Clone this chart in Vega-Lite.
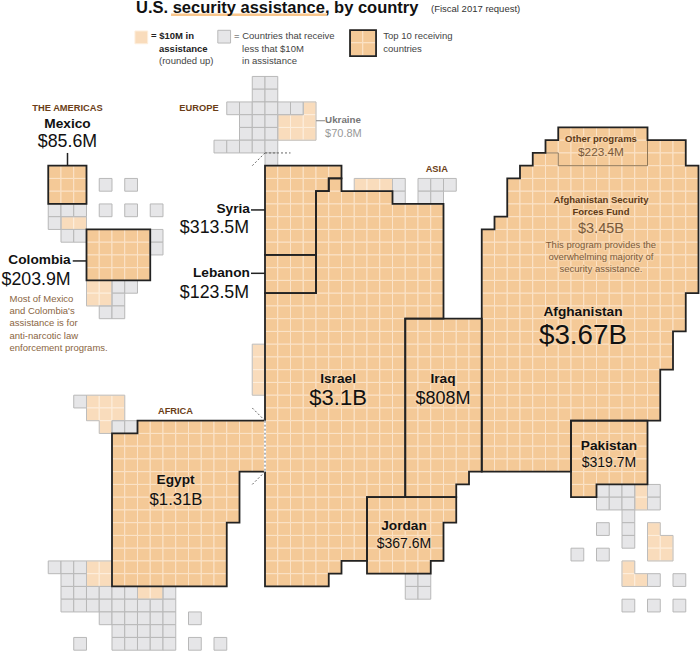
{
"$schema":"https://vega.github.io/schema/vega-lite/v6.json",
"width":700,"height":653,"autosize":{"type":"none"},"padding":0,"background":"white",
"config":{"view":{"stroke":null},"text":{"font":"Liberation Sans"}},
"datasets":{
"inBold":[{"x":25.73,"y":29.02,"t":"Israel"},{"x":33.96,"y":29.07,"t":"Iraq"},{"x":44.94,"y":23.79,"t":"Afghanistan"},{"x":12.99,"y":36.94,"t":"Egypt"},{"x":46.98,"y":34.3,"t":"Pakistan"},{"x":30.9,"y":40.57,"t":"Jordan"}],
"inAmt":[{"x":25.73,"y":30.77,"t":"$3.1B","tier":"b"},{"x":33.96,"y":30.69,"t":"$808M","tier":"c"},{"x":44.94,"y":25.99,"t":"$3.67B","tier":"a"},{"x":13.02,"y":38.64,"t":"$1.31B","tier":"d"},{"x":46.98,"y":35.63,"t":"$319.7M","tier":"e"},{"x":30.9,"y":41.98,"t":"$367.6M","tier":"e"}],
"brBold":[{"x":46.35,"y":10.14,"t":"Other programs"},{"x":46.35,"y":14.93,"t":"Afghanistan Security"},{"x":46.35,"y":15.89,"t":"Forces Fund"}],
"brAmt":[{"x":46.35,"y":11.22,"t":"$223.4M","tier":"f"},{"x":46.35,"y":17.25,"t":"$3.45B","tier":"g"}],
"brBody":[{"x":46.35,"y":18.43,"t":"This program provides the"},{"x":46.35,"y":19.4,"t":"overwhelming majority of"},{"x":46.35,"y":20.34,"t":"security assistance."}]
},
"encoding":{
"x":{"field":"x","type":"quantitative","axis":null,"scale":{"domain":[-0.7843,54.1176],"nice":false,"zero":false}},
"y":{"field":"y","type":"quantitative","axis":null,"scale":{"domain":[-0.9961,50.2196],"reverse":true,"nice":false,"zero":false}}
},
"layer":[
{"data":{"values":[{"x":[12.63,24.78],"y":[0.16,0.16]}]},"transform":[{"flatten":["x","y"]}],"mark":{"type":"line","color":"#f9c68c","strokeWidth":2.5},"encoding":{"order":{"value":null}}},
{"data":{"values":[
{"tier":"top","country":"Afghanistan","y":[9],"x":[43,44,45,46,47,48,49]},
{"tier":"top","country":"Afghanistan","y":[10],"x":[42,43,44,45,46,47,48,49,50,51,52]},
{"tier":"top","country":"Afghanistan","y":[11],"x":[41,42,43,44,45,46,47,48,49,50,51,52]},
{"tier":"top","country":"Afghanistan","y":[12],"x":[40,41,42,43,44,45,46,47,48,49,50,51,52,53]},
{"tier":"top","country":"Afghanistan","y":[13,14,15],"x":[39,40,41,42,43,44,45,46,47,48,49,50,51,52,53]},
{"tier":"top","country":"Afghanistan","y":[16],"x":[38,39,40,41,42,43,44,45,46,47,48,49,50,51,52,53]},
{"tier":"top","country":"Afghanistan","y":[17,18,19,20,21],"x":[37,38,39,40,41,42,43,44,45,46,47,48,49,50,51,52,53]},
{"tier":"top","country":"Afghanistan","y":[22,23,24],"x":[37,38,39,40,41,42,43,44,45,46,47,48,49,50,51,52]},
{"tier":"top","country":"Afghanistan","y":[25,26,27],"x":[37,38,39,40,41,42,43,44,45,46,47,48,49,50,51]},
{"tier":"top","country":"Afghanistan","y":[28,29,30,31],"x":[37,38,39,40,41,42,43,44,45,46,47,48,49,50]},
{"tier":"top","country":"Afghanistan","y":[32,33,34,35],"x":[37,38,39,40,41,42,43]},
{"tier":"top","country":"Israel","y":[13],"x":[25]},
{"tier":"top","country":"Israel","y":[14],"x":[24,25,26,27,28,29]},
{"tier":"top","country":"Israel","y":[15,16,17,18,19,20,21],"x":[24,25,26,27,28,29,30,31,32,33]},
{"tier":"top","country":"Israel","y":[22,23],"x":[20,21,22,23,24,25,26,27,28,29,30,31,32,33]},
{"tier":"top","country":"Israel","y":[24,25,26,27,28,29,30,31,32,33,34,35,36,37],"x":[20,21,22,23,24,25,26,27,28,29,30]},
{"tier":"top","country":"Israel","y":[38,39,40,41,42],"x":[20,21,22,23,24,25,26,27]},
{"tier":"top","country":"Israel","y":[43],"x":[20,21,22,23,24,25]},
{"tier":"top","country":"Israel","y":[44],"x":[20,21,22,23,24]},
{"tier":"top","country":"Syria","y":[12],"x":[20,21,22,23,24,25]},
{"tier":"top","country":"Syria","y":[13],"x":[20,21,22,23,24]},
{"tier":"top","country":"Syria","y":[14,15,16,17,18],"x":[20,21,22,23]},
{"tier":"top","country":"Lebanon","y":[19,20,21],"x":[20,21,22,23]},
{"tier":"top","country":"Iraq","y":[24,25,26,27,28,29,30,31,32,33,34,35],"x":[31,32,33,34,35,36]},
{"tier":"top","country":"Iraq","y":[36],"x":[31,32,33,34,35]},
{"tier":"top","country":"Iraq","y":[37],"x":[31,32,33,34]},
{"tier":"top","country":"Jordan","y":[38,39],"x":[28,29,30,31,32,33,34]},
{"tier":"top","country":"Jordan","y":[40,41,42],"x":[28,29,30,31,32,33]},
{"tier":"top","country":"Jordan","y":[43],"x":[28,29,30,31,32]},
{"tier":"top","country":"Pakistan","y":[32,33,34,35,36],"x":[44,45,46,47,48,49]},
{"tier":"top","country":"Pakistan","y":[37],"x":[44,45]},
{"tier":"top","country":"Egypt","y":[32],"x":[10,11,12,13,14,15,16,17,18,19]},
{"tier":"top","country":"Egypt","y":[33,34,35],"x":[8,9,10,11,12,13,14,15,16,17,18,19]},
{"tier":"top","country":"Egypt","y":[36,37,38,39],"x":[8,9,10,11,12,13,14,15,16,17]},
{"tier":"top","country":"Egypt","y":[40,41,42,43,44],"x":[8,9,10,11,12,13,14,15,16]},
{"tier":"top","country":"Mexico","y":[12,13,14],"x":[3,4,5]},
{"tier":"top","country":"Colombia","y":[17,18,19,20],"x":[6,7,8,9,10]},
{"tier":"top","country":"legend","y":[1.36,2.36],"x":[26.67,27.67]},
{"tier":"light","y":[7],"x":[23]},{"tier":"light","y":[8,9],"x":[21,22,23]},{"tier":"light","y":[13],"x":[27,28,29]},
{"tier":"light","y":[16],"x":[4,5]},{"tier":"light","y":[21,22],"x":[6,7]},{"tier":"light","y":[26,27,28,29],"x":[19]},
{"tier":"light","y":[30,31],"x":[6,7,8]},{"tier":"light","y":[32],"x":[7]},{"tier":"light","y":[43,44],"x":[6,7]},
{"tier":"light","y":[45],"x":[10,11]},{"tier":"light","y":[37,38],"x":[49]},{"tier":"light","y":[40],"x":[50]},
{"tier":"light","y":[41,42],"x":[50,51]},{"tier":"light","y":[43],"x":[48]},{"tier":"light","y":[44],"x":[48,49]},
{"tier":"light","y":[1.435],"x":[9.8]},
{"tier":"gray","y":[5,6],"x":[19,20]},{"tier":"gray","y":[7],"x":[17,18,19,20,21,22]},{"tier":"gray","y":[8,9],"x":[18,19,20]},
{"tier":"gray","y":[10],"x":[16,17,18,19,20]},{"tier":"gray","y":[11],"x":[20]},
{"tier":"gray","y":[13],"x":[7,9,30,32,33,34]},{"tier":"gray","y":[14],"x":[30,32,33]},
{"tier":"gray","y":[15],"x":[3,4,5,7,9,11]},{"tier":"gray","y":[16],"x":[3]},{"tier":"gray","y":[17],"x":[4,5,11]},{"tier":"gray","y":[18],"x":[11]},
{"tier":"gray","y":[21],"x":[8,9]},{"tier":"gray","y":[22],"x":[8]},{"tier":"gray","y":[23],"x":[7,8]},
{"tier":"gray","y":[30],"x":[5]},{"tier":"gray","y":[32],"x":[8,9]},
{"tier":"gray","y":[43],"x":[3,4,5]},{"tier":"gray","y":[44],"x":[4,5,31,32,50,52]},
{"tier":"gray","y":[45],"x":[4,5,6,7,8,9,12,31,32]},{"tier":"gray","y":[46],"x":[4,5,6,7,8,9,10,11,12,48,50,52]},
{"tier":"gray","y":[47],"x":[7,8,9,10,11,12,14]},{"tier":"gray","y":[48],"x":[8,9,10,11,12]},{"tier":"gray","y":[49],"x":[5,8,9,10,11,12,14,16]},
{"tier":"gray","y":[37,38],"x":[46,47,48,50]},{"tier":"gray","y":[39],"x":[48]},{"tier":"gray","y":[40],"x":[46,48]},{"tier":"gray","y":[41],"x":[48]},{"tier":"gray","y":[42],"x":[44,46]},
{"tier":"gray","y":[1.38],"x":[16.3]}
]},
"transform":[{"flatten":["y"]},{"flatten":["x"]}],
"mark":{"type":"rect","width":12.75,"height":12.75,"xOffset":6.375,"yOffset":6.375,"strokeWidth":1},
"encoding":{
"fill":{"field":"tier","type":"nominal","legend":null,"scale":{"domain":["top","light","gray"],"range":["#f4c997","#f9dcbc","#e6e6e8"]}},
"stroke":{"field":"tier","type":"nominal","legend":null,"scale":{"domain":["top","light","gray"],"range":["#fbe3c8","#fdeedd","#b8b8b8"]}}
}},
{"data":{"values":[
{"id":"u","x":[23,24,24,21,21,23,23],"y":[7,7,10,10,8,8,7]},
{"id":"m","x":[4,6,6,4,4],"y":[16,16,17,17,16]},
{"id":"c","x":[6,8,8,6,6],"y":[21,21,23,23,21]},
{"id":"i","x":[19,20,20,19,19],"y":[26,26,30,30,26]},
{"id":"n","x":[6,9,9,8,8,7,7,6,6],"y":[30,30,32,32,33,33,32,32,30]},
{"id":"s","x":[6,8,8,6,6],"y":[43,43,45,45,43]},
{"id":"t","x":[10,12,12,10,10],"y":[45,45,46,46,45]},
{"id":"a","x":[27,30,30,27,27],"y":[13,13,14,14,13]},
{"id":"p","x":[49,50,50,49,49],"y":[37,37,39,39,37]},
{"id":"q","x":[50,51,51,52,52,50,50],"y":[40,40,41,41,43,43,40]},
{"id":"r","x":[48,49,49,50,50,48,48],"y":[43,43,44,44,45,45,43]}
]},"transform":[{"flatten":["x","y"]}],"mark":{"type":"line","color":"#bdbdbd","strokeWidth":1},"encoding":{"detail":{"field":"id"},"order":{"value":null}}},
{"data":{"values":[{"id":"prog","x":[42,43,43,50,50],"y":[11,11,12,12,10]}]},"transform":[{"flatten":["x","y"]}],"mark":{"type":"line","color":"#8f7656","strokeWidth":1},"encoding":{"order":{"value":null}}},
{"data":{"values":[
{"id":"Afghanistan","x":[43,50,50,53,53,54,54,53,53,52,52,51,51,44,44,37,37,38,38,39,39,40,40,41,41,42,42,43,43],"y":[9,9,10,10,12,12,22,22,25,25,28,28,32,32,36,36,17,17,16,16,13,13,12,12,11,11,10,10,9]},
{"id":"Israel","x":[25,26,26,30,30,34,34,31,31,28,28,26,26,25,25,20,20,24,24,25,25],"y":[13,13,14,14,15,15,24,24,38,38,43,43,44,44,45,45,22,22,14,14,13]},
{"id":"Syria","x":[20,26,26,25,25,24,24,20,20],"y":[12,12,13,13,14,14,19,19,12]},
{"id":"Lebanon","x":[20,24,24,20,20],"y":[19,19,22,22,19]},
{"id":"Iraq","x":[31,37,37,36,36,35,35,31,31],"y":[24,24,36,36,37,37,38,38,24]},
{"id":"Jordan","x":[28,35,35,34,34,33,33,28,28],"y":[38,38,40,40,43,43,44,44,38]},
{"id":"Pakistan","x":[44,50,50,46,46,44,44],"y":[32,32,37,37,38,38,32]},
{"id":"Egypt","x":[10,20,20,18,18,17,17,8,8,10,10],"y":[32,32,36,36,40,40,45,45,33,33,32]},
{"id":"Mexico","x":[3,6,6,3,3],"y":[12,12,15,15,12]},
{"id":"Colombia","x":[6,11,11,6,6],"y":[17,17,21,21,17]},
{"id":"legend","x":[26.67,28.71,28.71,26.67,26.67],"y":[1.36,1.36,3.4,3.4,1.36]}
]},"transform":[{"flatten":["x","y"]}],"mark":{"type":"line","color":"#222","strokeWidth":1.8,"strokeCap":"square","strokeJoin":"miter"},"encoding":{"detail":{"field":"id"},"order":{"value":null}}},
{"data":{"values":[{"x":[20,20],"y":[32,36]}]},"transform":[{"flatten":["x","y"]}],"mark":{"type":"line","color":"#ffffff","strokeWidth":2.2},"encoding":{"order":{"value":null}}},
{"data":{"values":[
{"id":"a","x":[20,19],"y":[11,12]},{"id":"b","x":[20,22],"y":[11,11]},{"id":"c","x":[20,19],"y":[32,31]},{"id":"d","x":[20,19],"y":[36,37]},{"id":"e","x":[20,20],"y":[32,36]}
]},"transform":[{"flatten":["x","y"]}],"mark":{"type":"line","color":"#666","strokeWidth":1,"strokeDash":[2,2]},"encoding":{"detail":{"field":"id"},"order":{"value":null}}},
{"data":{"values":[
{"id":"Mexico","x":[4.51,4.51],"y":[11,12]},{"id":"Syria","x":[18.9,20],"y":[15.47,15.47]},{"id":"Lebanon","x":[18.9,20],"y":[20.44,20.44]},{"id":"Colombia","x":[4.92,6],"y":[19.47,19.47]}
]},"transform":[{"flatten":["x","y"]}],"mark":{"type":"line","color":"#222","strokeWidth":1.5},"encoding":{"detail":{"field":"id"},"order":{"value":null}}},
{"data":{"values":[{"x":[24,24.7],"y":[8.47,8.47]}]},"transform":[{"flatten":["x","y"]}],"mark":{"type":"line","color":"#999","strokeWidth":1.2},"encoding":{"order":{"value":null}}},

{"data":{"values":[{"x":9.88,"y":0,"t":"U.S. security assistance, by country"}]},"mark":{"type":"text","align":"left","baseline":"alphabetic","fontSize":16.5,"fontWeight":"bold","color":"#111"},"encoding":{"text":{"field":"t"}}},
{"data":{"values":[{"x":33.02,"y":-0.05,"t":"(Fiscal 2017 request)"}]},"mark":{"type":"text","align":"left","baseline":"alphabetic","fontSize":9.5,"color":"#333"},"encoding":{"text":{"field":"t"}}},
{"data":{"values":[{"x":11.06,"y":2.09,"t":"= $10M in"},{"x":11.69,"y":3.08,"t":"assistance"}]},"mark":{"type":"text","align":"left","baseline":"alphabetic","fontSize":9.5,"fontWeight":"bold","color":"#222"},"encoding":{"text":{"field":"t"}}},
{"data":{"values":[{"x":11.69,"y":4.05,"t":"(rounded up)"},{"x":17.57,"y":2.09,"t":"= Countries that receive"},{"x":18.2,"y":3.08,"t":"less that $10M"},{"x":18.2,"y":4.05,"t":"in assistance"},{"x":29.28,"y":2.09,"t":"Top 10 receiving"},{"x":29.28,"y":3.08,"t":"countries"}]},"mark":{"type":"text","align":"left","baseline":"alphabetic","fontSize":9.5,"color":"#444"},"encoding":{"text":{"field":"t"}}},
{"data":{"values":[{"x":4.51,"y":7.73,"t":"THE AMERICAS"},{"x":14.82,"y":7.73,"t":"EUROPE"},{"x":33.47,"y":12.52,"t":"ASIA"},{"x":12.98,"y":31.47,"t":"AFRICA"}]},"mark":{"type":"text","align":"center","baseline":"alphabetic","fontSize":9.3,"fontWeight":"bold","color":"#6b3e17"},"encoding":{"text":{"field":"t"}}},
{"data":{"values":[{"x":4.51,"y":9.07,"t":"Mexico"}]},"mark":{"type":"text","align":"center","baseline":"alphabetic","fontSize":13.7,"fontWeight":"bold","color":"#111"},"encoding":{"text":{"field":"t"}}},
{"data":{"values":[{"x":18.82,"y":15.73,"t":"Syria"},{"x":18.82,"y":20.75,"t":"Lebanon"},{"x":4.76,"y":19.71,"t":"Colombia"}]},"mark":{"type":"text","align":"right","baseline":"alphabetic","fontSize":13.7,"fontWeight":"bold","color":"#111"},"encoding":{"text":{"field":"t"}}},
{"data":{"values":[{"x":4.51,"y":10.53,"t":"$85.6M"}]},"mark":{"type":"text","align":"center","baseline":"alphabetic","fontSize":17.8,"color":"#111"},"encoding":{"text":{"field":"t"}}},
{"data":{"values":[{"x":18.75,"y":17.28,"t":"$313.5M"},{"x":18.75,"y":22.35,"t":"$123.5M"},{"x":4.76,"y":21.36,"t":"$203.9M"}]},"mark":{"type":"text","align":"right","baseline":"alphabetic","fontSize":17.8,"color":"#111"},"encoding":{"text":{"field":"t"}}},
{"data":{"values":[{"x":24.71,"y":8.67,"t":"Ukraine"}]},"mark":{"type":"text","align":"left","baseline":"alphabetic","fontSize":9.8,"fontWeight":"bold","color":"#777"},"encoding":{"text":{"field":"t"}}},
{"data":{"values":[{"x":24.71,"y":9.73,"t":"$70.8M"}]},"mark":{"type":"text","align":"left","baseline":"alphabetic","fontSize":11,"color":"#999"},"encoding":{"text":{"field":"t"}}},
{"data":{"values":[{"x":-0.04,"y":22.67,"t":"Most of Mexico"},{"x":-0.04,"y":23.62,"t":"and Colombia's"},{"x":-0.04,"y":24.6,"t":"assistance is for"},{"x":-0.04,"y":25.57,"t":"anti-narcotic law"},{"x":-0.04,"y":26.53,"t":"enforcement programs."}]},"mark":{"type":"text","align":"left","baseline":"alphabetic","fontSize":9.5,"color":"#8a6542"},"encoding":{"text":{"field":"t"}}},

{"data":{"name":"inBold"},"mark":{"type":"text","align":"center","baseline":"alphabetic","fontSize":13.7,"fontWeight":"bold","stroke":"#f7d3a9","strokeWidth":2.5,"strokeJoin":"round"},"encoding":{"text":{"field":"t"}}},
{"data":{"name":"inAmt"},"mark":{"type":"text","align":"center","baseline":"alphabetic","stroke":"#f7d3a9","strokeWidth":2.5,"strokeJoin":"round"},"encoding":{"text":{"field":"t"},"size":{"field":"tier","type":"nominal","legend":null,"scale":{"type":"ordinal","domain":["a","b","c","d","e","f","g"],"range":[27.8,22,18,16.7,14,11.8,14.5]}}}},
{"data":{"name":"brBold"},"mark":{"type":"text","align":"center","baseline":"alphabetic","fontSize":9.5,"fontWeight":"bold","stroke":"#f7d3a9","strokeWidth":2.5,"strokeJoin":"round"},"encoding":{"text":{"field":"t"}}},
{"data":{"name":"brAmt"},"mark":{"type":"text","align":"center","baseline":"alphabetic","stroke":"#f7d3a9","strokeWidth":2.5,"strokeJoin":"round"},"encoding":{"text":{"field":"t"},"size":{"field":"tier","type":"nominal","legend":null,"scale":{"type":"ordinal","domain":["a","b","c","d","e","f","g"],"range":[27.8,22,18,16.7,14,11.8,14.5]}}}},
{"data":{"name":"brBody"},"mark":{"type":"text","align":"center","baseline":"alphabetic","fontSize":9.5,"stroke":"#f7d3a9","strokeWidth":2.5,"strokeJoin":"round"},"encoding":{"text":{"field":"t"}}},

{"data":{"name":"inBold"},"mark":{"type":"text","align":"center","baseline":"alphabetic","fontSize":13.7,"fontWeight":"bold","color":"#111"},"encoding":{"text":{"field":"t"}}},
{"data":{"name":"inAmt"},"mark":{"type":"text","align":"center","baseline":"alphabetic","color":"#111"},"encoding":{"text":{"field":"t"},"size":{"field":"tier","type":"nominal","legend":null,"scale":{"type":"ordinal","domain":["a","b","c","d","e","f","g"],"range":[27.8,22,18,16.7,14,11.8,14.5]}}}},
{"data":{"name":"brBold"},"mark":{"type":"text","align":"center","baseline":"alphabetic","fontSize":9.5,"fontWeight":"bold","color":"#5e3a17"},"encoding":{"text":{"field":"t"}}},
{"data":{"name":"brAmt"},"mark":{"type":"text","align":"center","baseline":"alphabetic","color":"#7a5a3a"},"encoding":{"text":{"field":"t"},"size":{"field":"tier","type":"nominal","legend":null,"scale":{"type":"ordinal","domain":["a","b","c","d","e","f","g"],"range":[27.8,22,18,16.7,14,11.8,14.5]}}}},
{"data":{"name":"brBody"},"mark":{"type":"text","align":"center","baseline":"alphabetic","fontSize":9.5,"color":"#7a5a3a"},"encoding":{"text":{"field":"t"}}}
]
}
